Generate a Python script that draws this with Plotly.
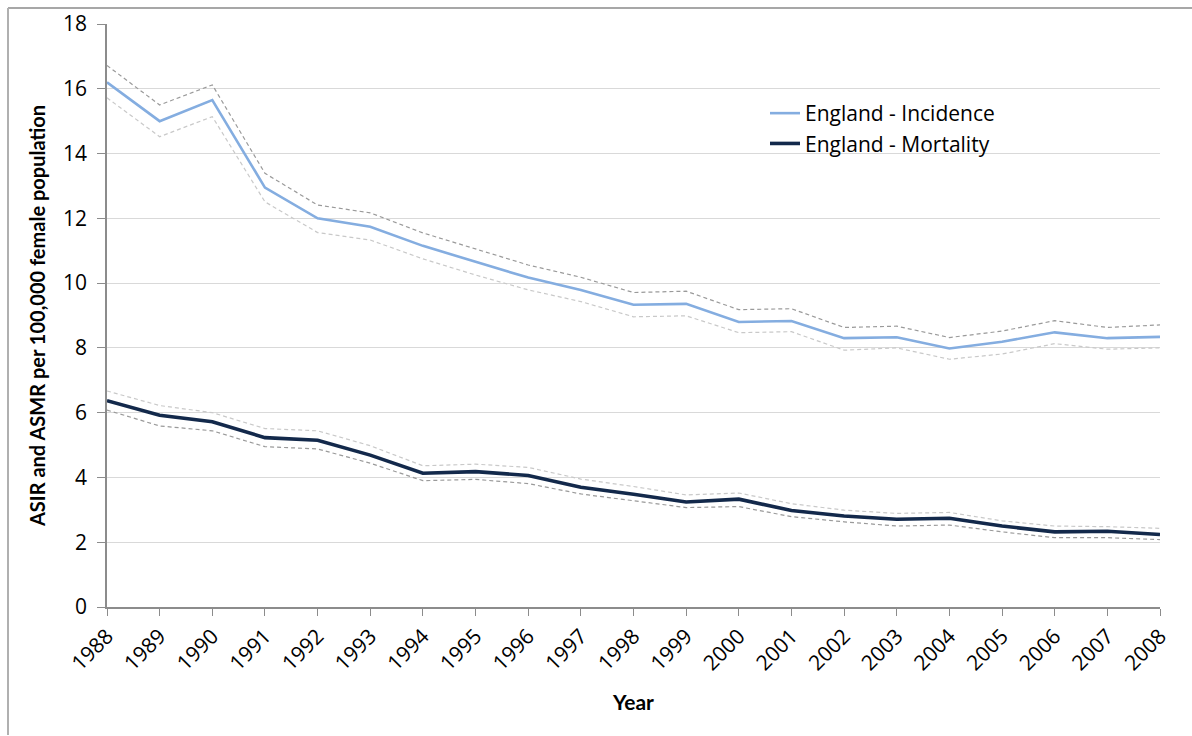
import plotly.graph_objects as go

years = list(range(1988, 2009))

# England female age-standardised rates per 100,000
incidence = [16.2, 15.0, 15.65, 12.95, 12.0, 11.74, 11.15, 10.65, 10.17, 9.79,
             9.33, 9.36, 8.80, 8.83, 8.30, 8.33, 7.98, 8.19, 8.48, 8.30, 8.34]
incidence_upper = [16.72, 15.5, 16.12, 13.39, 12.41, 12.17, 11.55, 11.05, 10.56, 10.18,
                   9.71, 9.75, 9.18, 9.21, 8.63, 8.67, 8.32, 8.52, 8.84, 8.63, 8.71]
incidence_lower = [15.72, 14.52, 15.14, 12.51, 11.56, 11.33, 10.75, 10.25, 9.79, 9.43,
                   8.96, 8.99, 8.47, 8.50, 7.93, 8.00, 7.65, 7.81, 8.13, 7.96, 8.00]

mortality = [6.37, 5.92, 5.72, 5.23, 5.15, 4.69, 4.13, 4.18, 4.06, 3.70,
             3.48, 3.24, 3.33, 2.98, 2.81, 2.71, 2.74, 2.50, 2.32, 2.34, 2.24]
mortality_upper = [6.67, 6.22, 6.00, 5.51, 5.44, 4.98, 4.36, 4.41, 4.31, 3.95,
                   3.72, 3.46, 3.52, 3.19, 2.99, 2.89, 2.92, 2.66, 2.50, 2.48, 2.43]
mortality_lower = [6.08, 5.59, 5.44, 4.95, 4.88, 4.44, 3.90, 3.94, 3.81, 3.49,
                   3.28, 3.07, 3.10, 2.79, 2.63, 2.50, 2.53, 2.32, 2.14, 2.14, 2.08]

DARK_DASH = "#9a9a9a"
LIGHT_DASH = "#c9c9c9"
FONT = "Open Sans"
BOLD_FONT = "Lato"

fig = go.Figure()

def ci(y, color):
    fig.add_trace(go.Scatter(x=years, y=y, mode="lines", showlegend=False,
                             hoverinfo="skip",
                             line=dict(color=color, width=1.2, dash="4px,3px")))

ci(incidence_upper, DARK_DASH)
ci(incidence_lower, LIGHT_DASH)
ci(mortality_upper, LIGHT_DASH)
ci(mortality_lower, DARK_DASH)

fig.add_trace(go.Scatter(x=years, y=incidence, mode="lines",
                         name="England - Incidence",
                         line=dict(color="#84ade0", width=2.6)))
fig.add_trace(go.Scatter(x=years, y=mortality, mode="lines",
                         name="England - Mortality",
                         line=dict(color="#13294b", width=3.6)))

L, R, T, B = 107, 32, 24, 129
W, H = 1192, 736
pw, ph = W - L - R, H - T - B

# outer frame (top and left edges)
fig.add_shape(type="line", xref="paper", yref="paper",
              x0=(8 - L) / pw, x1=(W - L) / pw,
              y0=1 + (T - 8) / ph, y1=1 + (T - 8) / ph,
              line=dict(color="#8a8a8a", width=1.5))
fig.add_shape(type="line", xref="paper", yref="paper",
              x0=(8 - L) / pw, x1=(8 - L) / pw,
              y0=1 + (T - 8) / ph, y1=-(735 - (H - B)) / ph,
              line=dict(color="#b0b0b0", width=2))

fig.update_layout(
    width=W, height=H,
    margin=dict(l=L, r=R, t=T, b=B, autoexpand=False),
    plot_bgcolor="white", paper_bgcolor="white",
    font=dict(family=FONT, color="#000000", size=18),
    legend=dict(x=(765 - L) / pw, y=1 - (93 - T) / ph, xanchor="left", yanchor="top",
                font=dict(size=21, family=FONT), bgcolor="rgba(0,0,0,0)",
                tracegroupgap=0, itemwidth=30),
    showlegend=True,
)

fig.update_xaxes(
    range=[1988, 2008], tickmode="array", tickvals=years,
    ticktext=[str(y) for y in years], tickangle=-45,
    showgrid=False, zeroline=False,
    showline=True, linecolor="#8c8c8c", linewidth=1.5,
    ticks="outside", ticklen=7, tickcolor="#8c8c8c", tickwidth=1,
    tickfont=dict(size=21, family=FONT),
    title=dict(text="<b>Year</b>", font=dict(size=21, family=BOLD_FONT), standoff=20),
)
fig.update_yaxes(
    range=[0, 18], dtick=2, tick0=0,
    showgrid=True, gridcolor="#d9d9d9", gridwidth=1.2, zeroline=False,
    showline=True, linecolor="#8c8c8c", linewidth=1.5,
    ticks="outside", ticklen=8, tickcolor="#8c8c8c", tickwidth=1,
    ticklabelstandoff=6,
    tickfont=dict(size=21, family=FONT),
    title=dict(text="<b>ASIR and ASMR per 100,000 female population</b>",
               font=dict(size=20, family=BOLD_FONT), standoff=12),
)

fig.write_html("out.html")
